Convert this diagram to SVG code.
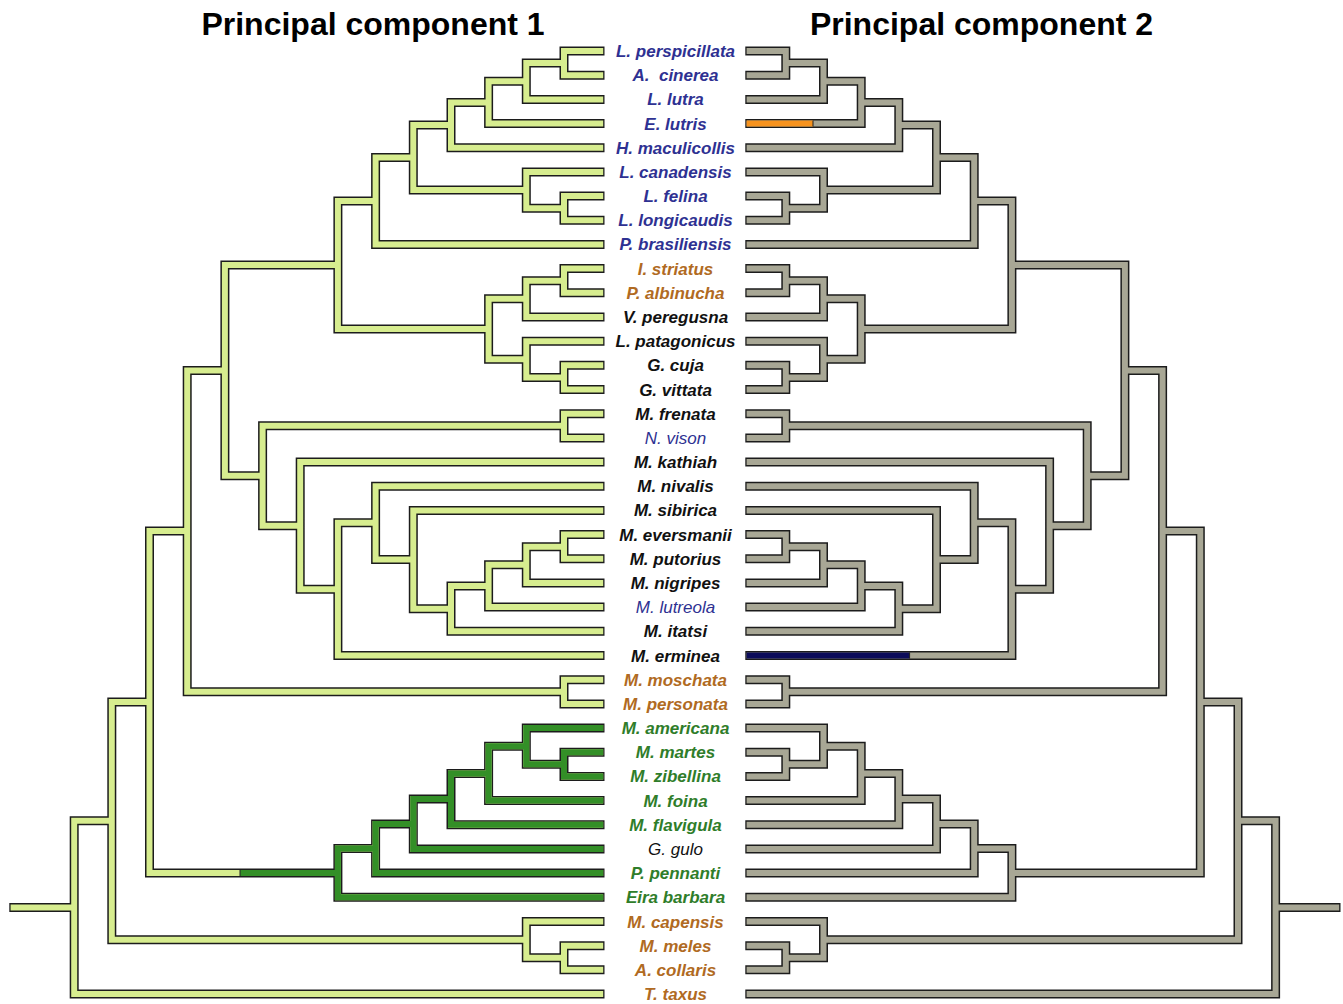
<svg xmlns="http://www.w3.org/2000/svg" xmlns:xlink="http://www.w3.org/1999/xlink" width="1343" height="1004" viewBox="0 0 1343 1004">
<style>
.ol{fill:none;stroke:#1c1c1c;stroke-width:9;stroke-linejoin:miter;stroke-linecap:butt}
.fl{fill:none;stroke-width:6;stroke-linejoin:miter;stroke-linecap:butt}
.c1{stroke:#d7ed8f}
.c2{stroke:#a8a795}
.dg{stroke:#338f27}
.or{stroke:#f7931e}
.nv{stroke:#0c0c5a}
.sep{fill:none;stroke:#222;stroke-width:1}
.title{font-family:"Liberation Sans",Arial,sans-serif;font-weight:bold;font-size:32px;text-anchor:middle;fill:#000}
.lab{font-family:"Liberation Sans",Arial,sans-serif;font-style:italic;font-weight:bold;font-size:17px;text-anchor:middle}
.lt{font-weight:normal}
.b{fill:#2e3192}.o{fill:#b06a22}.k{fill:#111}.g{fill:#2f7d2a}
</style>
<defs>
<clipPath id="tipclip"><rect x="10.6" y="0" width="592.6" height="1004"/></clipPath>
<path id="tree" d="M604.5 51 H564 V75.2 H604.5
M564 63.1 H526.3 V99.4 H604.5
M526.3 81.25 H488.6 V123.5 H604.5
M488.6 102.4 H451 V147.7 H604.5
M604.5 196.1 H564 V220.3 H604.5
M604.5 171.9 H526.3 V208.2 H564
M451 125.05 H413.3 V190.05 H526.3
M413.3 157.55 H375.6 V244.4 H604.5
M604.5 268.6 H564 V292.8 H604.5
M564 280.7 H526.3 V317 H604.5
M604.5 365.3 H564 V389.5 H604.5
M604.5 341.2 H526.3 V377.4 H564
M526.3 298.85 H488.6 V359.3 H526.3
M375.6 200.98 H337.9 V329.08 H488.6
M604.5 413.7 H564 V437.9 H604.5
M604.5 534.6 H564 V558.8 H604.5
M564 546.7 H526.3 V583 H604.5
M526.3 564.85 H488.6 V607.1 H604.5
M488.6 585.98 H451 V631.3 H604.5
M604.5 510.4 H413.3 V608.64 H451
M604.5 486.2 H375.6 V559.52 H413.3
M375.6 522.86 H337.9 V655.5 H604.5
M604.5 462.1 H300.2 V589.18 H337.9
M564 425.8 H262.6 V525.64 H300.2
M337.9 265.03 H224.9 V475.72 H262.6
M604.5 679.7 H564 V703.9 H604.5
M224.9 370.38 H187.2 V691.8 H564
M604.5 752.2 H564 V776.4 H604.5
M604.5 728 H526.3 V764.3 H564
M526.3 746.15 H488.6 V800.6 H604.5
M488.6 773.38 H451 V824.8 H604.5
M451 799.09 H413.3 V848.9 H604.5
M413.3 824 H375.6 V873.1 H604.5
M375.6 848.55 H337.9 V897.3 H604.5
M187.2 531.09 H149.5 V872.93 H337.9
M604.5 945.7 H564 V969.8 H604.5
M604.5 921.5 H526.3 V957.75 H564
M149.5 702.01 H111.8 V939.63 H526.3
M111.8 820.82 H74.2 V994 H604.5
M9.3 907.41 H74.2"/>
<path id="martes" d="M604.5 752.2 H564 V776.4 H604.5
M604.5 728 H526.3 V764.3 H564
M526.3 746.15 H488.6 V800.6 H604.5
M488.6 773.38 H451 V824.8 H604.5
M451 799.09 H413.3 V848.9 H604.5
M413.3 824 H375.6 V873.1 H604.5
M375.6 848.55 H337.9 V897.3 H604.5
M240 872.93 H337.9"/>
</defs>

<g id="titles">
<text class="title" x="373" y="35">Principal component 1</text>
<text class="title" x="981.5" y="35">Principal component 2</text>
</g>

<g id="connectors">
<g id="tree-pc1">
<use xlink:href="#tree" class="ol"/>
<use xlink:href="#tree" class="fl c1" clip-path="url(#tipclip)"/>
<use xlink:href="#martes" class="fl dg" clip-path="url(#tipclip)"/>
<path class="sep" d="M240 869.9 V876"/>
</g>
<g id="tree-pc2" transform="matrix(-1 0 0 1 1349.8 0)">
<use xlink:href="#tree" class="ol"/>
<use xlink:href="#tree" class="fl c2" clip-path="url(#tipclip)"/>
<path class="fl or" d="M536.8 123.5 H604.5" clip-path="url(#tipclip)"/>
<path class="sep" d="M536.8 120.5 V126.5"/>
<path class="fl nv" d="M440.2 655.5 H604.5" clip-path="url(#tipclip)"/>
<path class="sep" d="M440.2 652.5 V658.5"/>
</g>
</g>

<g id="taxa">
<g id="t01"><text class="lab b" x="675.5" y="57">L. perspicillata</text></g>
<g id="t02"><text class="lab b" x="675.5" y="81.2" style="white-space:pre">A.  cinerea</text></g>
<g id="t03"><text class="lab b" x="675.5" y="105.4">L. lutra</text></g>
<g id="t04"><text class="lab b" x="675.5" y="129.5">E. lutris</text></g>
<g id="t05"><text class="lab b" x="675.5" y="153.7">H. maculicollis</text></g>
<g id="t06"><text class="lab b" x="675.5" y="177.9">L. canadensis</text></g>
<g id="t07"><text class="lab b" x="675.5" y="202.1">L. felina</text></g>
<g id="t08"><text class="lab b" x="675.5" y="226.3">L. longicaudis</text></g>
<g id="t09"><text class="lab b" x="675.5" y="250.4">P. brasiliensis</text></g>
<g id="t10"><text class="lab o" x="675.5" y="274.6">I. striatus</text></g>
<g id="t11"><text class="lab o" x="675.5" y="298.8">P. albinucha</text></g>
<g id="t12"><text class="lab k" x="675.5" y="323">V. peregusna</text></g>
<g id="t13"><text class="lab k" x="675.5" y="347.2">L. patagonicus</text></g>
<g id="t14"><text class="lab k" x="675.5" y="371.3">G. cuja</text></g>
<g id="t15"><text class="lab k" x="675.5" y="395.5">G. vittata</text></g>
<g id="t16"><text class="lab k" x="675.5" y="419.7">M. frenata</text></g>
<g id="t17"><text class="lab b lt" x="675.5" y="443.9">N. vison</text></g>
<g id="t18"><text class="lab k" x="675.5" y="468.1">M. kathiah</text></g>
<g id="t19"><text class="lab k" x="675.5" y="492.2">M. nivalis</text></g>
<g id="t20"><text class="lab k" x="675.5" y="516.4">M. sibirica</text></g>
<g id="t21"><text class="lab k" x="675.5" y="540.6">M. eversmanii</text></g>
<g id="t22"><text class="lab k" x="675.5" y="564.8">M. putorius</text></g>
<g id="t23"><text class="lab k" x="675.5" y="589">M. nigripes</text></g>
<g id="t24"><text class="lab b lt" x="675.5" y="613.1">M. lutreola</text></g>
<g id="t25"><text class="lab k" x="675.5" y="637.3">M. itatsi</text></g>
<g id="t26"><text class="lab k" x="675.5" y="661.5">M. erminea</text></g>
<g id="t27"><text class="lab o" x="675.5" y="685.7">M. moschata</text></g>
<g id="t28"><text class="lab o" x="675.5" y="709.9">M. personata</text></g>
<g id="t29"><text class="lab g" x="675.5" y="734">M. americana</text></g>
<g id="t30"><text class="lab g" x="675.5" y="758.2">M. martes</text></g>
<g id="t31"><text class="lab g" x="675.5" y="782.4">M. zibellina</text></g>
<g id="t32"><text class="lab g" x="675.5" y="806.6">M. foina</text></g>
<g id="t33"><text class="lab g" x="675.5" y="830.8">M. flavigula</text></g>
<g id="t34"><text class="lab k lt" x="675.5" y="854.9">G. gulo</text></g>
<g id="t35"><text class="lab g" x="675.5" y="879.1">P. pennanti</text></g>
<g id="t36"><text class="lab g" x="675.5" y="903.3">Eira barbara</text></g>
<g id="t37"><text class="lab o" x="675.5" y="927.5">M. capensis</text></g>
<g id="t38"><text class="lab o" x="675.5" y="951.7">M. meles</text></g>
<g id="t39"><text class="lab o" x="675.5" y="975.8">A. collaris</text></g>
<g id="t40"><text class="lab o" x="675.5" y="1000">T. taxus</text></g>
</g>
</svg>
